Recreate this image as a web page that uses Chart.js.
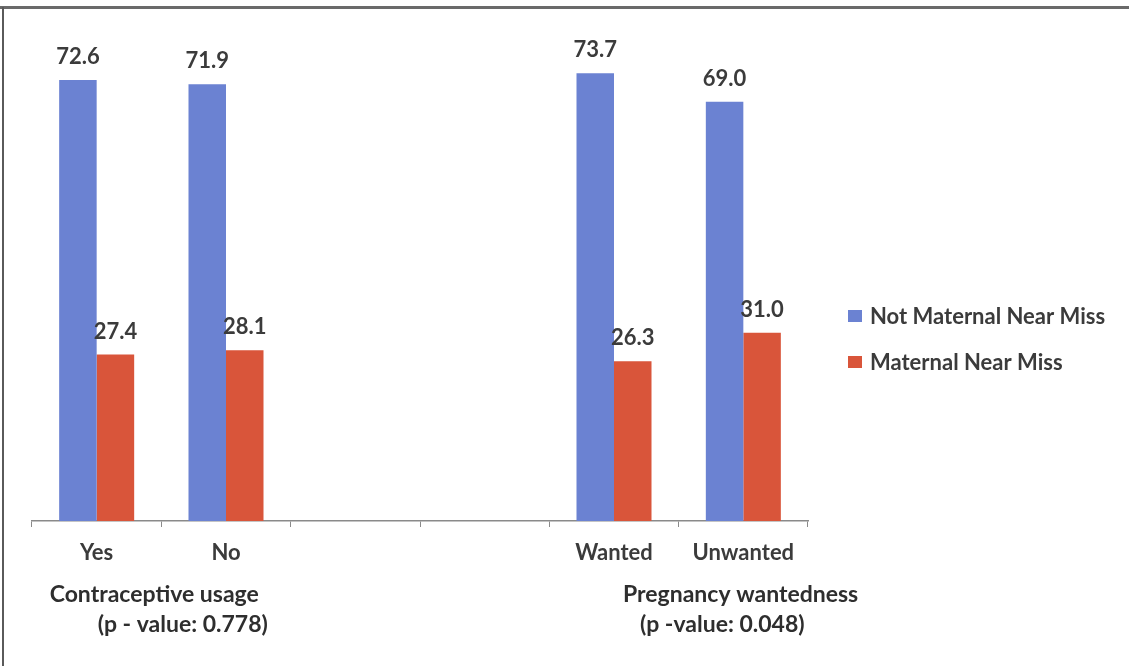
<!DOCTYPE html>
<html>
<head>
<meta charset="utf-8">
<script src="https://cdn.jsdelivr.net/npm/chart.js@4.4.1/dist/chart.umd.min.js"></script>
<style>
  html, body { margin: 0; padding: 0; background: #ffffff; }
  #wrap { position: relative; width: 1129px; height: 666px; }
  canvas { display: block; }
</style>
</head>
<body>
<div id="wrap"><canvas id="chart" width="1129" height="666"></canvas></div>
<script>
// Categories along the x axis (two blank slots separate the two groups)
const categories = ['Yes', 'No', '', '', 'Wanted', 'Unwanted'];

// Percentages per category
const notNearMiss = [72.6, 71.9, null, null, 73.7, 69.0];
const nearMiss    = [27.4, 28.1, null, null, 26.3, 31.0];

// Series names
const seriesNames = ['Not Maternal Near Miss', 'Maternal Near Miss'];

// Group captions under the axis
const groupTitles = ['Contraceptive usage', 'Pregnancy wantedness'];
const groupPValues = ['(p - value: 0.778)', '(p -value: 0.048)'];

const BLUE = '#6b82d2';
const RED = '#d9553a';
const TEXT = '#3b3b3b';
const FONT = 'Lato, "Open Sans", "DejaVu Sans", sans-serif';

// Value labels above every bar
const valueLabels = {
  id: 'valueLabels',
  afterDatasetsDraw(chart) {
    const ctx = chart.ctx;
    ctx.save();
    ctx.font = 'bold 22px ' + FONT;
    ctx.fillStyle = TEXT;
    ctx.textAlign = 'center';
    ctx.textBaseline = 'middle';
    chart.data.datasets.forEach((ds, di) => {
      chart.getDatasetMeta(di).data.forEach((bar, i) => {
        const v = ds.data[i];
        if (v === null || v === undefined) return;
        ctx.fillText(v.toFixed(1), bar.x, bar.y - 23);
      });
    });
    ctx.restore();
  }
};

// Legend on the right, built from the datasets
const sideLegend = {
  id: 'sideLegend',
  afterDraw(chart) {
    const ctx = chart.ctx;
    const area = chart.chartArea;
    ctx.save();
    ctx.font = 'bold 22px ' + FONT;
    ctx.textBaseline = 'middle';
    ctx.textAlign = 'left';
    const x0 = area.right + 40;
    const y0 = 316;
    chart.data.datasets.forEach((ds, i) => {
      const y = y0 + i * 46;
      ctx.fillStyle = ds.backgroundColor;
      ctx.fillRect(x0, y - 6, 14, 12);
      ctx.fillStyle = TEXT;
      ctx.fillText(ds.label, x0 + 22, y + 1);
    });
    ctx.restore();
  }
};

// Group captions and the frame lines
const captions = {
  id: 'captions',
  afterDraw(chart) {
    const ctx = chart.ctx;
    const xs = chart.scales.x;
    ctx.save();
    ctx.font = 'bold 23px ' + FONT;
    ctx.fillStyle = '#2e2e2e';
    ctx.textBaseline = 'alphabetic';
    ctx.textAlign = 'left';
    const c0 = xs.getPixelForValue(0);
    const c4 = xs.getPixelForValue(4);
    ctx.fillText(groupTitles[0], c0 - 47, 602);
    ctx.fillText(groupPValues[0], c0 + 1, 632);
    ctx.fillText(groupTitles[1], c4 + 9, 602);
    ctx.fillText(groupPValues[1], c4 + 26, 632);

    // frame: thick rule across the top, thin rule down the left side
    ctx.fillStyle = '#6a6a6a';
    ctx.fillRect(0, 6, chart.width, 3);
    ctx.fillStyle = '#5a5a5a';
    ctx.fillRect(2, 7, 2, chart.height - 7);
    ctx.restore();
  }
};

new Chart(document.getElementById('chart'), {
  type: 'bar',
  data: {
    labels: categories,
    datasets: [
      { label: seriesNames[0], data: notNearMiss, backgroundColor: BLUE },
      { label: seriesNames[1], data: nearMiss, backgroundColor: RED }
    ]
  },
  options: {
    responsive: false,
    animation: false,
    events: [],
    layout: { padding: { left: 32, right: 321, top: 35, bottom: 105 } },
    datasets: {
      bar: { categoryPercentage: 0.58, barPercentage: 1.0 }
    },
    plugins: {
      legend: { display: false },
      tooltip: { enabled: false },
      title: { display: false }
    },
    scales: {
      x: {
        grid: {
          display: true,
          drawOnChartArea: false,
          drawTicks: true,
          tickLength: 6,
          color: '#8a8a8a',
          offset: true
        },
        border: { display: true, color: '#8a8a8a', width: 1.5 },
        ticks: {
          color: TEXT,
          font: { family: FONT, size: 22, weight: 'bold' },
          padding: 13,
          maxRotation: 0,
          autoSkip: false
        },
        afterFit(scale) { scale.height = 40; }
      },
      y: {
        display: false,
        min: 0,
        max: 80
      }
    }
  },
  plugins: [valueLabels, sideLegend, captions]
});
</script>
</body>
</html>
